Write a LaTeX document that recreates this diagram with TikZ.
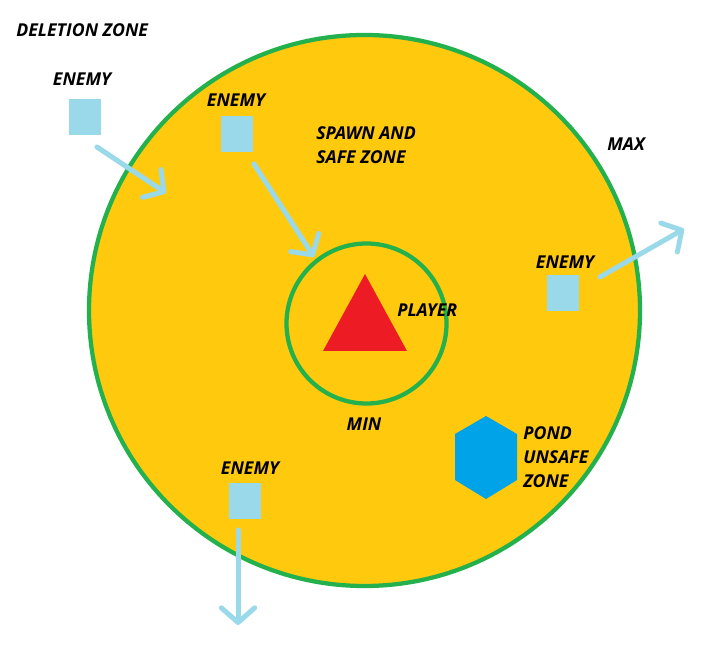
\documentclass[tikz,border=0pt]{standalone}
\usepackage{fontspec}
\setmainfont{Open Sans}
\usetikzlibrary{arrows.meta}
\definecolor{zoneyellow}{HTML}{FFC90E}
\definecolor{zonegreen}{HTML}{22B14C}
\definecolor{enemyblue}{HTML}{99D9EA}
\definecolor{playerred}{HTML}{ED1C24}
\definecolor{pondblue}{HTML}{00A2E8}
\tikzset{
	enemy/.style={fill=enemyblue, minimum width=24pt, minimum height=27pt, inner sep=0pt},
	tag/.style={font=\bfseries\itshape\fontsize{13.3}{18}\selectfont, inner sep=0pt},
	move/.style={enemyblue, line width=3.75pt, line cap=round,
			-{Straight Barb[length=11pt,width=25pt,round]}}
}

\begin{document}
\begin{tikzpicture}[x=0.75pt, y=-0.75pt]
			\useasboundingbox (0,0) rectangle (710,648);

			% Draw the zones
			\draw[zonegreen, line width=3.2pt, fill=zoneyellow] (364.5,310.5) circle (275.5);
			\draw[zonegreen, line width=3.2pt] (366.5,323.5) circle (80);

			% Draw the player and the pond
			\fill[playerred] (365,274) -- (407,351) -- (323,351) -- cycle;
			\fill[pondblue] (486,416) -- (517,434) -- (517,480) -- (486,499) -- (455,480) -- (455,434) -- cycle;

			% Place the enemies
			\node[enemy] (enemyA) at (85,117) {};
			\node[enemy] (enemyB) at (237,134) {};
			\node[enemy] (enemyC) at (563,293.5) {};
			\node[enemy] (enemyD) at (245,501) {};

			% Label the zones
			\node[tag, anchor=west] (deletion) at (16,30) {DELETION ZONE};
			\node[tag, anchor=west, align=left] (spawn) at (316,145) {SPAWN AND\\SAFE ZONE};
			\node[tag] (max) at (626,144) {MAX};
			\node[tag] (min) at (364,424) {MIN};
			\node[tag, anchor=west] (player) at (397,310) {PLAYER};
			\node[tag, anchor=west, align=left] (pond) at (523,457) {POND\\UNSAFE\\ZONE};

			% Label the enemies
			\node[tag] (enemyAtag) at (82,79) {ENEMY};
			\node[tag] (enemyBtag) at (236,100) {ENEMY};
			\node[tag] (enemyCtag) at (565,262) {ENEMY};
			\node[tag] (enemyDtag) at (250,468) {ENEMY};

			% Draw the movements
			\coordinate (tailA) at (97,147);
			\coordinate (headA) at (166,193);
			\coordinate (tailB) at (254,164);
			\coordinate (headB) at (314,257);
			\coordinate (tailC) at (600,277);
			\coordinate (headC) at (684,229);
			\coordinate (tailD) at (238,530);
			\coordinate (headD) at (238,625);
			\draw[move] (tailA) -- (headA);
			\draw[move] (tailB) -- (headB);
			\draw[move] (tailC) -- (headC);
			\draw[move] (tailD) -- (headD);
		\end{tikzpicture}
\end{document}
